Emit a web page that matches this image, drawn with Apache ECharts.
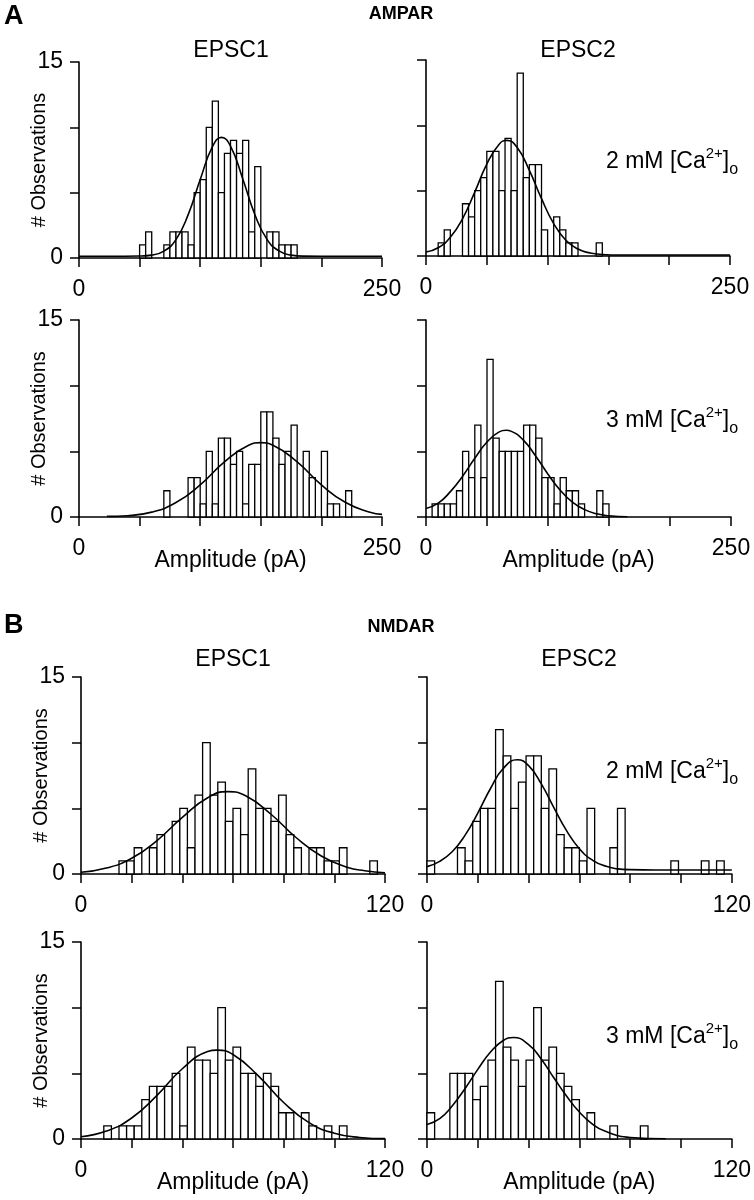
<!DOCTYPE html>
<html><head><meta charset="utf-8">
<script src="https://cdn.jsdelivr.net/npm/echarts@6/dist/echarts.min.js"></script>
<style>html,body{margin:0;padding:0;background:#fff}#c{width:754px;height:1200px}</style>
</head><body><div id="c"></div>
<script>
// ---------- data ----------
const BIN_A = 5;   // pA per histogram bin, AMPAR panels
const BIN_B = 3;   // pA per histogram bin, NMDAR panels

// counts per bin, bin k covers [k*BIN, (k+1)*BIN)
const countsA_EPSC1_2mM = [0,0,0,0,0,0,0,0,0,0, 1,2,0,0,1,2,2,2,1,5, 6,10,12,5,8,9,8,9,2,7, 0,2,2,1,1,1,0,0,0,0, 0,0,0,0,0,0,0,0,0,0];
const countsA_EPSC2_2mM = [0,0,1,2,0,0,4,3,5,6, 8,8,5,9,5,14,6,7,7,2, 0,3,2,1,1,0,0,0,1,0, 0,0,0,0,0,0,0,0,0,0, 0,0,0,0,0,0,0,0,0,0];
const countsA_EPSC1_3mM = [0,0,0,0,0,0,0,0,0,0, 0,0,0,0,2,0,0,0,3,3, 1,5,1,6,6,4,5,1,4,4, 8,8,6,4,5,7,0,5,3,0, 5,1,1,0,2,0,0,0,0,0];
const countsA_EPSC2_3mM = [0,1,1,1,1,2,5,3,7,3, 12,6,5,5,5,5,7,7,6,3, 3,1,3,2,2,1,0,0,2,1, 0,0,0,0,0,0,0,0,0,0, 0,0,0,0,0,0,0,0,0,0];
const countsB_EPSC1_2mM = [0,0,0,0,0,1,1,2,0,2, 3,0,4,5,2,6,10,6,7,4, 5,3,8,5,5,4,6,3,2,0, 2,2,1,1,2,0,0,0,1,0];
const countsB_EPSC2_2mM = [1,0,0,0,2,1,4,5,5,11, 9,5,7,9,9,5,8,3,2,2, 1,5,0,0,2,5,0,0,0,0, 0,0,1,0,0,0,1,0,1,0];
const countsB_EPSC1_3mM = [0,0,0,1,0,1,1,1,3,4, 4,4,5,1,7,6,6,5,10,6, 7,5,5,4,5,4,2,2,0,2, 1,0,1,0,1,0,0,0,0,0];
const countsB_EPSC2_3mM = [2,0,0,5,5,5,3,4,6,12, 7,6,4,6,10,6,7,5,4,3, 0,2,0,0,1,0,0,0,1,0, 0,0,0,0,0,0,0,0,0,0];

// fitted curves, points [amplitude pA, count]
const fitA_EPSC1_2mM = [[0,0.13],[25,0.13],[50,0.15],[60,0.22],[70,0.53],[80,1.41],[90,3.3],[100,6.0],[110,8.5],[117.6,9.23],[125,8.56],[135,6.09],[145,3.35],[155,1.44],[165,0.54],[175,0.22],[185,0.14],[215,0.13],[250,0.13]];
const fitA_EPSC2_2mM = [[0,0.3],[10,0.63],[20,1.43],[30,2.85],[40,4.87],[50,7.03],[60,8.54],[66.4,8.85],[75,8.3],[85,6.55],[95,4.39],[105,2.48],[115,1.2],[125,0.53],[135,0.23],[145,0.12],[160,0.08],[200,0.08],[250,0.08]];
const fitA_EPSC1_3mM = [[23,0.05],[40,0.1],[60,0.37],[80,1.1],[100,2.44],[120,4.19],[140,5.47],[150,5.66],[160,5.47],[180,4.19],[200,2.44],[220,1.1],[240,0.37],[250,0.2]];
const fitA_EPSC2_3mM = [[0,0.65],[10,1.05],[20,1.93],[30,3.1],[40,4.47],[50,5.71],[60,6.48],[65.6,6.6],[70,6.52],[80,5.83],[90,4.63],[100,3.26],[110,2.04],[120,1.13],[130,0.56],[140,0.24],[150,0.1],[165,0.02]];
const fitB_EPSC1_2mM = [[0,0.13],[10,0.45],[20,1.2],[30,2.55],[40,4.31],[50,5.81],[58,6.27],[65,5.96],[75,4.55],[85,2.76],[95,1.35],[105,0.52],[112,0.25],[120,0.1]];
const fitB_EPSC2_2mM = [[0,0.56],[5,0.96],[10,1.71],[15,2.96],[20,4.64],[25,6.51],[30,8.03],[35.5,8.7],[40,8.25],[45,6.86],[50,5.03],[55,3.28],[60,1.92],[65,1.07],[70,0.62],[80,0.33],[90,0.3],[120,0.3]];
const fitB_EPSC1_3mM = [[0,0.17],[10,0.6],[20,1.6],[30,3.32],[40,5.35],[50,6.66],[53.6,6.77],[60,6.43],[70,4.81],[80,2.78],[90,1.25],[100,0.44],[110,0.12],[120,0.03]];
const fitB_EPSC2_3mM = [[0,1.1],[5,1.55],[10,2.54],[15,3.85],[20,5.3],[25,6.62],[30,7.5],[34,7.73],[40,7.19],[45,6.08],[50,4.64],[55,3.25],[60,2.05],[65,1.16],[70,0.6],[80,0.12],[94,0.02]];

// axis ranges and labelled ticks
const xRangeA = [0, 250], xStepA = 50, xLabelsA = [0, 250];
const xRangeB = [0, 120], xStepB = 20, xLabelsB = [0, 120];
const yRange = [0, 15], yStep = 5, yLabels = [0, 15];

// ---------- layout ----------
const FONT = '"Liberation Sans", Arial, Helvetica, sans-serif';
const panels = [
  {counts: countsA_EPSC1_2mM, fit: fitA_EPSC1_2mM, bin: BIN_A, xr: xRangeA, xs: xStepA, xl: xLabelsA, left: 79,  top: 62,  width: 303, height: 196, yLab: true,  xName: false},
  {counts: countsA_EPSC2_2mM, fit: fitA_EPSC2_2mM, bin: BIN_A, xr: xRangeA, xs: xStepA, xl: xLabelsA, left: 426, top: 60,  width: 304, height: 196, yLab: false, xName: false},
  {counts: countsA_EPSC1_3mM, fit: fitA_EPSC1_3mM, bin: BIN_A, xr: xRangeA, xs: xStepA, xl: xLabelsA, left: 79,  top: 320, width: 303, height: 197, yLab: true,  xName: true},
  {counts: countsA_EPSC2_3mM, fit: fitA_EPSC2_3mM, bin: BIN_A, xr: xRangeA, xs: xStepA, xl: xLabelsA, left: 426, top: 320, width: 305, height: 197, yLab: false, xName: true},
  {counts: countsB_EPSC1_2mM, fit: fitB_EPSC1_2mM, bin: BIN_B, xr: xRangeB, xs: xStepB, xl: xLabelsB, left: 81,  top: 677, width: 304, height: 197, yLab: true,  xName: false},
  {counts: countsB_EPSC2_2mM, fit: fitB_EPSC2_2mM, bin: BIN_B, xr: xRangeB, xs: xStepB, xl: xLabelsB, left: 427, top: 677, width: 305, height: 197, yLab: false, xName: false},
  {counts: countsB_EPSC1_3mM, fit: fitB_EPSC1_3mM, bin: BIN_B, xr: xRangeB, xs: xStepB, xl: xLabelsB, left: 81,  top: 942, width: 304, height: 197, yLab: true,  xName: true},
  {counts: countsB_EPSC2_3mM, fit: fitB_EPSC2_3mM, bin: BIN_B, xr: xRangeB, xs: xStepB, xl: xLabelsB, left: 427, top: 942, width: 305, height: 197, yLab: false, xName: true}
];

const grids = [], xAxes = [], yAxes = [], series = [];
const axisLine = {show: true, onZero: false, lineStyle: {color: '#000', width: 1.6}};
const axisTick = {show: true, inside: false, length: 9, lineStyle: {color: '#000', width: 1.5}};

panels.forEach((p, i) => {
  grids.push({left: p.left, top: p.top, width: p.width, height: p.height});
  xAxes.push({
    gridIndex: i, type: 'value', min: p.xr[0], max: p.xr[1], interval: p.xs,
    axisLine, axisTick, splitLine: {show: false},
    axisLabel: {color: '#000', fontSize: 23, fontFamily: FONT, margin: 20,
      formatter: v => p.xl.indexOf(v) >= 0 ? String(v) : ''},
    name: p.xName ? 'Amplitude (pA)' : '', nameLocation: 'middle', nameGap: 32,
    nameMoveOverlap: false,
    nameTextStyle: {color: '#000', fontSize: 23, fontFamily: FONT}
  });
  yAxes.push({
    gridIndex: i, type: 'value', min: yRange[0], max: yRange[1], interval: yStep,
    axisLine, axisTick, splitLine: {show: false},
    axisLabel: {show: p.yLab, color: '#000', fontSize: 23, fontFamily: FONT, margin: 16,
      formatter: v => yLabels.indexOf(v) >= 0 ? String(v) : ''},
    name: p.yLab ? '# Observations' : '', nameLocation: 'middle', nameGap: 30,
    nameMoveOverlap: false,
    nameTextStyle: {color: '#000', fontSize: 20, fontFamily: FONT}
  });
  const bars = [];
  p.counts.forEach((c, k) => { if (c > 0) bars.push([k * p.bin, (k + 1) * p.bin, c]); });
  series.push({
    type: 'custom', xAxisIndex: i, yAxisIndex: i, data: bars, silent: true, z: 2,
    encode: {x: [0, 1], y: 2},
    renderItem: (params, api) => {
      const a = api.coord([api.value(0), 0]);
      const b = api.coord([api.value(1), api.value(2)]);
      return {type: 'rect', shape: {x: a[0], y: b[1], width: b[0] - a[0], height: a[1] - b[1]},
              style: {fill: '#fff', stroke: '#000', lineWidth: 1.3}};
    }
  });
  series.push({
    type: 'line', xAxisIndex: i, yAxisIndex: i, data: p.fit, smooth: 0.5,
    showSymbol: false, symbol: 'none', silent: true, z: 3,
    lineStyle: {color: '#000', width: 1.6}
  });
});

function caLabel(conc, x, y) {
  return {type: 'text', x: x, y: y, silent: true, style: {
    text: '{a|' + conc + ' mM [Ca}{s|2+}{a|]}{o|o}',
    verticalAlign: 'middle', align: 'left',
    rich: {
      a: {fontSize: 23, fontFamily: FONT, fill: '#000', color: '#000', lineHeight: 32, verticalAlign: 'middle'},
      s: {fontSize: 15, fontFamily: FONT, fill: '#000', color: '#000', lineHeight: 16, verticalAlign: 'top'},
      o: {fontSize: 16, fontFamily: FONT, fill: '#000', color: '#000', lineHeight: 16, verticalAlign: 'bottom'}
    }}};
}
function txt(t, x, y, size, bold, align) {
  return {type: 'text', x: x, y: y, silent: true, style: {
    text: t, fill: '#000', fontSize: size, fontFamily: FONT, fontWeight: bold ? 'bold' : 'normal',
    align: align || 'center', verticalAlign: 'middle'}};
}

const graphic = [
  txt('A', 4, 17, 27, true, 'left'),
  txt('AMPAR', 401, 14, 18, true),
  txt('EPSC1', 231, 51, 23),
  txt('EPSC2', 578, 51, 23),
  caLabel('2', 606, 162),
  caLabel('3', 606, 421),
  txt('B', 4, 626, 27, true, 'left'),
  txt('NMDAR', 401, 627, 18, true),
  txt('EPSC1', 233, 660, 23),
  txt('EPSC2', 579, 660, 23),
  caLabel('2', 606, 772),
  caLabel('3', 606, 1037)
];

const chart = echarts.init(document.getElementById('c'), null, {renderer: 'canvas'});
chart.setOption({
  animation: false, backgroundColor: '#fff',
  grid: grids, xAxis: xAxes, yAxis: yAxes, series: series, graphic: graphic
});
</script></body></html>
